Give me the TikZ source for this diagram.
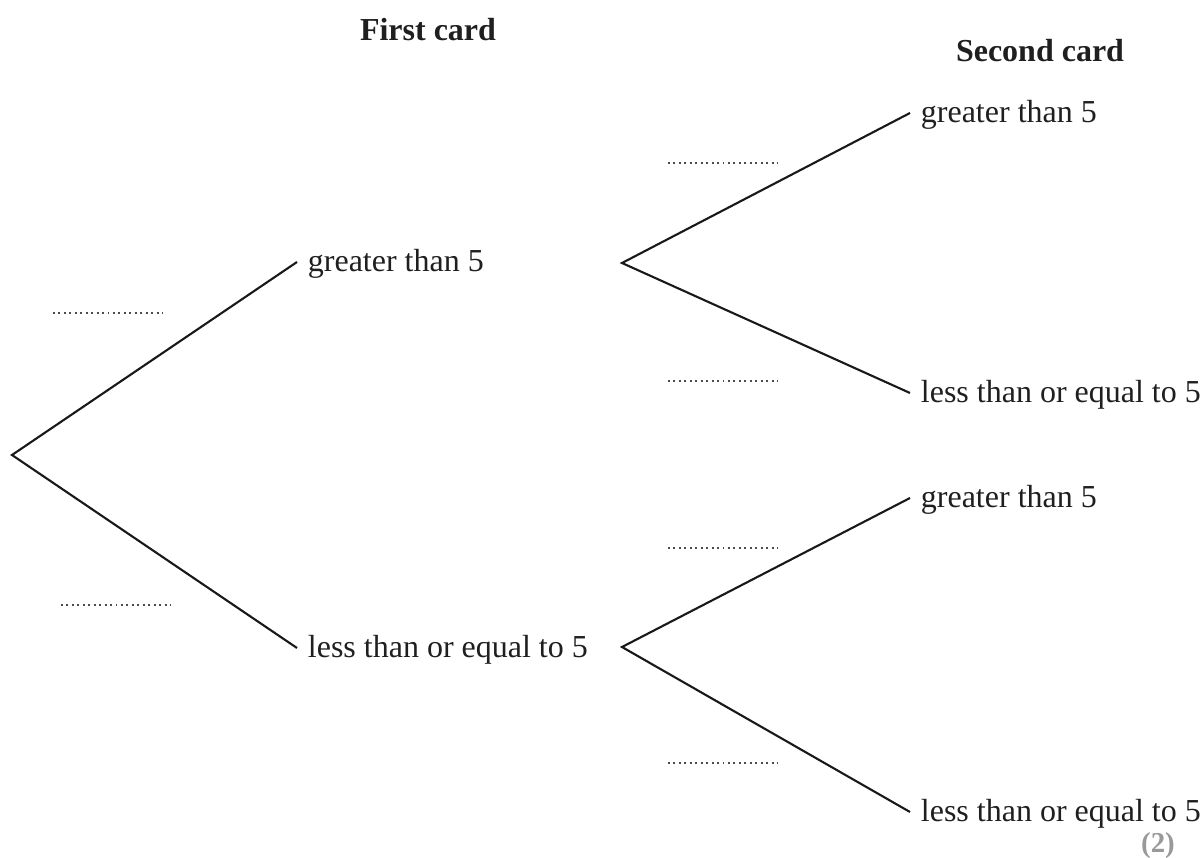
\documentclass[tikz,border=0pt]{standalone}
\usepackage{fontspec}
\setmainfont{Liberation Serif}
\begin{document}
\begin{tikzpicture}[x=0.01cm,y=-0.01cm,
  txt/.style={font=\fontsize{9.1}{11}\selectfont, text=black!88, inner sep=0pt},
  lbl/.style={txt, anchor=west, inner xsep=2.9pt, text height=0.7em, text depth=0.15em},
  head/.style={txt, font=\fontsize{9.1}{11}\selectfont\bfseries, anchor=base},
  branch/.style={line width=0.6pt, black!90},
  blank/.style={line width=0.55pt, black!70, dash pattern=on 0.55pt off 1.0pt}]
\useasboundingbox (0,0) rectangle (1203,858);

% column headings
\node[head] (h1) at (428,41) {First card};
\node[head] (h2) at (1040,62) {Second card};

% branch points
\coordinate (root) at (12,455);
\coordinate (b1) at (622,263);
\coordinate (b2) at (622,647);

% first-card outcomes
\node[lbl] (g1) at (297,262) {greater than 5};
\node[lbl] (l1) at (297,648) {less than or equal to 5};

% second-card outcomes
\node[lbl] (g2) at (910,113) {greater than 5};
\node[lbl] (l2) at (910,393) {less than or equal to 5};
\node[lbl] (g3) at (910,498) {greater than 5};
\node[lbl] (l3) at (910,812) {less than or equal to 5};

% branches
\draw[branch] (g1.west) -- (root) -- (l1.west);
\draw[branch] (g2.west) -- (b1) -- (l2.west);
\draw[branch] (g3.west) -- (b2) -- (l3.west);

% answer blanks for the probabilities
\draw[blank] (53,313) -- (163,313);
\draw[blank] (61,605) -- (171,605);
\draw[blank] (668,163) -- (778,163);
\draw[blank] (668,381) -- (778,381);
\draw[blank] (668,548) -- (778,548);
\draw[blank] (668,763) -- (778,763);

% marks
\node[txt, font=\fontsize{8.2}{10}\selectfont\bfseries, text=black!40, anchor=base] (mk) at (1158,852) {(2)};
\end{tikzpicture}
\end{document}
